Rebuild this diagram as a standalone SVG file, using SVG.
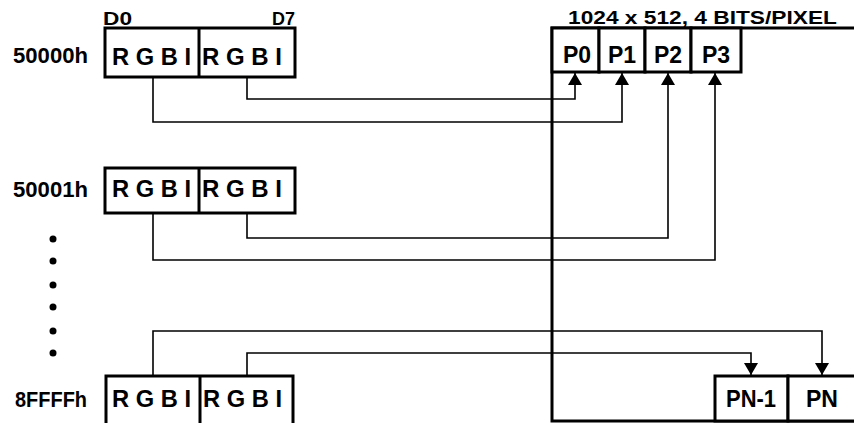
<svg xmlns="http://www.w3.org/2000/svg" width="854" height="423" viewBox="0 0 854 423">
<style>
.box{fill:#fff;stroke:#000;stroke-width:3}
.thick{fill:none;stroke:#000;stroke-width:3}
.wire{fill:none;stroke:#000;stroke-width:1.6}
.t{font-family:"Liberation Sans",Arial,sans-serif;font-weight:bold;fill:#000}
.rgbi{font-size:23px}
.lbl{font-size:22px}
.p{font-size:23px;text-anchor:middle}
.hd{font-size:19px}
</style>
<defs>
<marker id="ah" viewBox="0 0 12 14" refX="12" refY="7" markerWidth="12" markerHeight="14" markerUnits="userSpaceOnUse" orient="auto">
<path d="M0,0 L12,7 L0,14 Z" fill="#000"/>
</marker>
</defs>
<rect width="854" height="423" fill="#fff"/>

<g id="headers">
<text class="t hd" x="103" y="25" textLength="29" lengthAdjust="spacingAndGlyphs">D0</text>
<text class="t hd" x="272" y="25" textLength="23" lengthAdjust="spacingAndGlyphs">D7</text>
<text class="t" x="568" y="24" font-size="19" textLength="269" lengthAdjust="spacingAndGlyphs">1024 x 512, 4 BITS/PIXEL</text>
</g>

<g id="addresses">
<text class="t lbl" x="13" y="63" textLength="75" lengthAdjust="spacingAndGlyphs">50000h</text>
<text class="t lbl" x="13" y="197" textLength="75" lengthAdjust="spacingAndGlyphs">50001h</text>
<text class="t lbl" x="15" y="407" textLength="72" lengthAdjust="spacingAndGlyphs">8FFFFh</text>
</g>

<g id="dots" fill="#000">
<circle cx="53" cy="239" r="3.5"/>
<circle cx="53" cy="261" r="3.5"/>
<circle cx="53" cy="285" r="3.5"/>
<circle cx="53" cy="307" r="3.5"/>
<circle cx="53" cy="331" r="3.5"/>
<circle cx="53" cy="353" r="3.5"/>
</g>

<g id="connectors">
<polyline class="wire" points="247,77 247,99 575,99 575,73" marker-end="url(#ah)"/>
<polyline class="wire" points="153,77 153,122 622,122 622,73" marker-end="url(#ah)"/>
<polyline class="wire" points="247,213 247,238 668,238 668,73" marker-end="url(#ah)"/>
<polyline class="wire" points="153,213 153,260 715,260 715,73" marker-end="url(#ah)"/>
<polyline class="wire" points="153,376 153,331 822,331 822,375" marker-end="url(#ah)"/>
<polyline class="wire" points="247,376 247,353 751,353 751,375" marker-end="url(#ah)"/>
</g>

<g id="frame">
<polyline class="thick" points="856,28 552,28 552,421 856,421"/>
</g>

<g id="word-50000h">
<rect class="box" x="105" y="28" width="190" height="49"/>
<line class="thick" x1="199" y1="28" x2="199" y2="77"/>
<text class="t rgbi" x="112" y="65" textLength="79" lengthAdjust="spacingAndGlyphs">R G B I</text>
<text class="t rgbi" x="202" y="65" textLength="80" lengthAdjust="spacingAndGlyphs">R G B I</text>
</g>

<g id="word-50001h">
<rect class="box" x="105" y="168" width="190" height="45"/>
<line class="thick" x1="199" y1="168" x2="199" y2="213"/>
<text class="t rgbi" x="112" y="197" textLength="79" lengthAdjust="spacingAndGlyphs">R G B I</text>
<text class="t rgbi" x="202" y="197" textLength="80" lengthAdjust="spacingAndGlyphs">R G B I</text>
</g>

<g id="word-8FFFFh">
<rect class="box" x="106" y="376" width="187" height="60"/>
<line class="thick" x1="200" y1="376" x2="200" y2="436"/>
<text class="t rgbi" x="112" y="407" textLength="79" lengthAdjust="spacingAndGlyphs">R G B I</text>
<text class="t rgbi" x="203" y="407" textLength="79" lengthAdjust="spacingAndGlyphs">R G B I</text>
</g>

<g id="P0">
<rect class="box" x="552" y="28" width="47" height="44"/>
<text class="t p" x="577" y="63">P0</text>
</g>
<g id="P1">
<rect class="box" x="599" y="28" width="46" height="44"/>
<text class="t p" x="622" y="63">P1</text>
</g>
<g id="P2">
<rect class="box" x="645" y="28" width="46" height="44"/>
<text class="t p" x="668" y="63">P2</text>
</g>
<g id="P3">
<rect class="box" x="691" y="28" width="50" height="44"/>
<text class="t p" x="716" y="63">P3</text>
</g>
<g id="PN-1">
<rect class="box" x="715" y="376" width="73" height="45"/>
<text class="t p" x="751" y="407" textLength="50" lengthAdjust="spacingAndGlyphs">PN-1</text>
</g>
<g id="PN">
<rect class="box" x="788" y="376" width="70" height="45"/>
<text class="t p" x="822" y="407">PN</text>
</g>
</svg>
